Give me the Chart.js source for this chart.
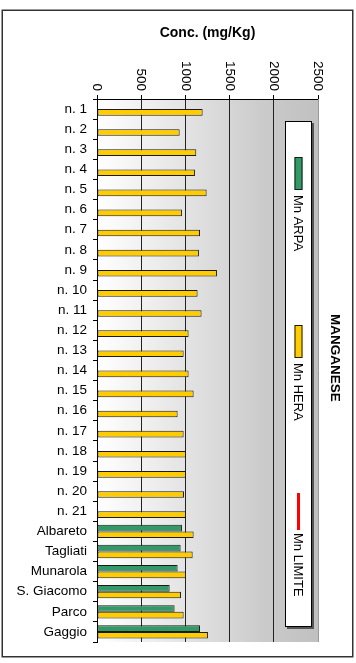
<!DOCTYPE html>
<html>
<head>
<meta charset="utf-8">
<script src="https://cdn.jsdelivr.net/npm/chart.js@4/dist/chart.umd.min.js"></script>
<style>
  html, body { margin: 0; padding: 0; background: #fff; }
  #wrap { width: 356px; height: 663px; }
  canvas { display: block; }
</style>
</head>
<body>
<div id="wrap"><canvas id="c" width="356" height="663"></canvas></div>
<script>
// Sampling points
const categories = [
  'n. 1', 'n. 2', 'n. 3', 'n. 4', 'n. 5', 'n. 6', 'n. 7', 'n. 8', 'n. 9', 'n. 10',
  'n. 11', 'n. 12', 'n. 13', 'n. 14', 'n. 15', 'n. 16', 'n. 17', 'n. 18', 'n. 19', 'n. 20',
  'n. 21', 'Albareto', 'Tagliati', 'Munarola', 'S. Giacomo', 'Parco', 'Gaggio'
];

// Manganese concentrations (mg/Kg)
const mnArpa = [
  null, null, null, null, null, null, null, null, null, null,
  null, null, null, null, null, null, null, null, null, null,
  null, 961, 946, 912, 822, 878, 1165
];
const mnHera = [
  1195, 935, 1123, 1108, 1240, 961, 1165, 1153, 1357, 1138,
  1183, 1036, 980, 1036, 1093, 912, 980, 1006, 1006, 984,
  1006, 1093, 1082, 1006, 950, 980, 1255
];
const mnLimite = [];

const concTicks = [0, 500, 1000, 1500, 2000, 2500];
const axisTitle = 'Conc. (mg/Kg)';
const chartTitle = 'MANGANESE';
const seriesNames = ['Mn ARPA', 'Mn HERA', 'Mn LIMITE'];

const FONT = '"Liberation Sans", Arial, Helvetica, sans-serif';

// Background, frame and the rotated texts (tick values, legend, title)
const decorations = {
  id: 'decorations',
  beforeDraw(chart) {
    const ctx = chart.ctx;
    const a = chart.chartArea;
    ctx.save();
    ctx.fillStyle = '#ffffff';
    ctx.fillRect(0, 0, chart.width, chart.height);
    const g = ctx.createLinearGradient(a.left, 0, a.right, 0);
    g.addColorStop(0, '#ffffff');
    g.addColorStop(0.75, '#cbcbcb');
    g.addColorStop(1, '#c0c0c0');
    ctx.fillStyle = g;
    ctx.fillRect(a.left, a.top, a.right - a.left, a.bottom - a.top);
    // outer frame
    ctx.strokeStyle = '#333333';
    ctx.lineWidth = 1.5;
    ctx.strokeRect(2.25, 10.25, 350.5, 646.5);
    ctx.restore();
  },
  afterDraw(chart) {
    const ctx = chart.ctx;
    const a = chart.chartArea;
    const xs = chart.scales.x;
    ctx.save();

    // plot area right edge
    ctx.strokeStyle = '#9a9a9a';
    ctx.lineWidth = 1;
    ctx.beginPath();
    ctx.moveTo(a.right + 0.5, a.top);
    ctx.lineTo(a.right + 0.5, a.bottom);
    ctx.stroke();

    // value labels on the top axis, turned to read downwards
    ctx.fillStyle = '#000';
    ctx.font = '13.5px ' + FONT;
    ctx.textAlign = 'right';
    ctx.textBaseline = 'middle';
    concTicks.forEach(v => {
      const px = xs.getPixelForValue(v);
      ctx.save();
      ctx.translate(px, a.top - 8);
      ctx.rotate(Math.PI / 2);
      ctx.fillText(String(v), 0, 0);
      ctx.restore();
    });

    // legend box with shadow
    const lx = 285, ly = 121, lw = 27, lh = 506;
    ctx.fillStyle = '#555555';
    ctx.fillRect(lx + 2, ly + 2, lw, lh);
    ctx.fillStyle = '#ffffff';
    ctx.fillRect(lx, ly, lw, lh);
    ctx.strokeStyle = '#000';
    ctx.lineWidth = 1;
    ctx.strokeRect(lx + 0.5, ly + 0.5, lw - 1, lh - 1);

    // legend entries
    const cx = 298.5;
    chart.data.datasets.forEach((ds, i) => {
      const y0 = ly + 36 + i * 168;
      ctx.save();
      ctx.translate(cx, y0);
      ctx.rotate(Math.PI / 2);
      let textStart;
      if (ds.type === 'line') {
        ctx.strokeStyle = ds.borderColor;
        ctx.lineWidth = 3;
        ctx.beginPath();
        ctx.moveTo(0, 0);
        ctx.lineTo(37, 0);
        ctx.stroke();
        textStart = 40;
      } else {
        ctx.fillStyle = ds.backgroundColor;
        ctx.fillRect(0, -4, 33, 8);
        ctx.strokeStyle = '#1a1a1a';
        ctx.lineWidth = 1;
        ctx.strokeRect(0.5, -3.5, 32, 7);
        textStart = 38;
      }
      ctx.fillStyle = '#000';
      ctx.font = '13px ' + FONT;
      ctx.textAlign = 'left';
      ctx.textBaseline = 'middle';
      ctx.fillText(ds.label, textStart, 0.5);
      ctx.restore();
    });

    // chart title
    ctx.save();
    ctx.translate(335, 358);
    ctx.rotate(Math.PI / 2);
    ctx.fillStyle = '#000';
    ctx.font = 'bold 13.5px ' + FONT;
    ctx.textAlign = 'center';
    ctx.textBaseline = 'middle';
    ctx.fillText(chartTitle, 0, 0);
    ctx.restore();

    ctx.restore();
  }
};

new Chart(document.getElementById('c'), {
  type: 'bar',
  data: {
    labels: categories,
    datasets: [
      {
        label: seriesNames[0],
        data: mnArpa,
        backgroundColor: '#339966',
        borderColor: '#1a1a1a',
        borderWidth: 1,
        borderSkipped: false,
        categoryPercentage: 0.66,
        barPercentage: 1.0
      },
      {
        label: seriesNames[1],
        data: mnHera,
        backgroundColor: '#FFCC00',
        borderColor: '#1a1a1a',
        borderWidth: 1,
        borderSkipped: false,
        categoryPercentage: 0.66,
        barPercentage: 1.0
      },
      {
        type: 'line',
        label: seriesNames[2],
        data: mnLimite,
        borderColor: '#FF0000',
        backgroundColor: '#FF0000',
        borderWidth: 3,
        pointRadius: 0
      }
    ]
  },
  options: {
    indexAxis: 'y',
    responsive: false,
    devicePixelRatio: 1,
    animation: false,
    layout: { padding: { left: 0, top: 0, right: 38, bottom: 21 } },
    plugins: {
      legend: { display: false },
      title: { display: false },
      tooltip: { enabled: false }
    },
    scales: {
      x: {
        position: 'top',
        min: 0,
        max: 2500,
        afterBuildTicks(scale) {
          scale.ticks = concTicks.map(v => ({ value: v }));
        },
        afterFit(scale) { scale.height = 99; },
        ticks: { display: false },
        grid: {
          drawTicks: true,
          tickLength: 4,
          tickColor: '#000',
          lineWidth: 1,
          color: c => (c.tick && (c.tick.value === 0 || c.tick.value === 2500)) ? 'rgba(0,0,0,0)' : '#222222'
        },
        border: { display: true, color: '#000', width: 1 },
        title: {
          display: true,
          text: axisTitle,
          color: '#000',
          font: { family: FONT, size: 14, weight: 'bold' },
          padding: { top: 25, bottom: 0 }
        }
      },
      y: {
        position: 'left',
        afterFit(scale) { scale.width = 97; },
        ticks: {
          color: '#000',
          font: { family: FONT, size: 13.5 },
          padding: 6,
          autoSkip: false
        },
        grid: {
          drawOnChartArea: false,
          drawTicks: true,
          tickLength: 4,
          tickColor: '#000',
          offset: true
        },
        border: { display: true, color: '#000', width: 1 }
      }
    }
  },
  plugins: [decorations]
});
</script>
</body>
</html>
